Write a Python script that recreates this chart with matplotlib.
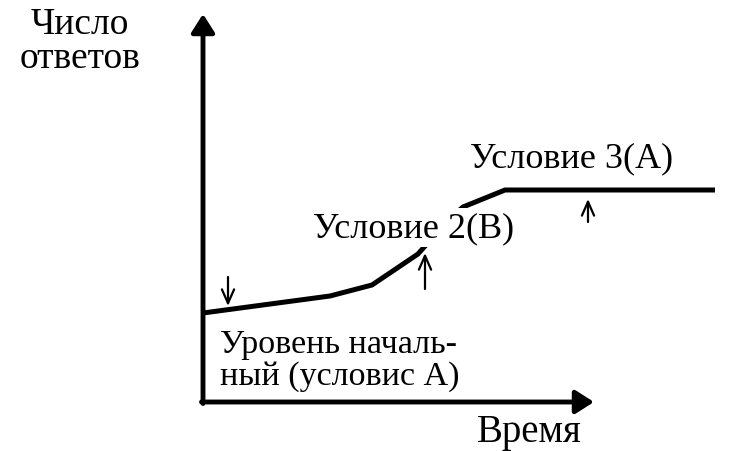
import matplotlib
matplotlib.use("Agg")
import matplotlib.pyplot as plt

# curve: time vs number of responses (origin at axis crossing)
time_pts = [0, 127, 169, 215, 244, 260, 302, 512]
responses = [89, 106, 117, 148, 181, 195, 212, 212]

# moments where the condition switches (small arrows)
switch_times = [25, 222, 385]
switch_from = [125, 113, 180]
switch_to = [96, 149, 203]

y_label = "Число\nответов"
x_label = "Время"
cond_labels = ["Уровень началь-\nный (условис А)", "Условие 2(B)", "Условие 3(A)"]

plt.rcParams["font.family"] = ["Liberation Serif", "DejaVu Serif"]

fig = plt.figure(figsize=(7.49, 4.52), dpi=100)
ax = fig.add_axes([0, 0, 1, 1])
ax.set_xlim(-203, 546)
ax.set_ylim(-49, 403)
ax.axis("off")

# axes with arrows
arrow = dict(arrowstyle="-|>,head_length=0.55,head_width=0.35", lw=3.5,
             color="black", shrinkA=0, shrinkB=0, mutation_scale=20)
ax.annotate("", xy=(0, 388), xytext=(0, -1.5), arrowprops=arrow)
ax.annotate("", xy=(391, 0), xytext=(-1.5, 0), arrowprops=arrow)

ax.plot(time_pts, responses, color="black", lw=3.6, solid_capstyle="butt",
        solid_joinstyle="round", zorder=2)

for t, a, b in zip(switch_times, switch_from, switch_to):
    ax.annotate("", xy=(t, b), xytext=(t, a),
                arrowprops=dict(arrowstyle="->,head_length=0.5,head_width=0.22",
                                lw=1.6, color="black", shrinkA=0, shrinkB=0,
                                mutation_scale=20))

ax.text(-123, 335, y_label, fontsize=27, ha="center", va="baseline",
        multialignment="center", linespacing=1.0)
ax.text(274, -39, x_label, fontsize=28, ha="left", va="baseline")

fs = 26
ax.text(17, 18, cond_labels[0], fontsize=24.5, ha="left", va="baseline", linespacing=1.05)
ax.text(110, 166, cond_labels[1], fontsize=fs, ha="left", va="baseline", zorder=3,
        bbox=dict(facecolor="white", edgecolor="none", pad=2))
ax.text(267, 236, cond_labels[2], fontsize=fs, ha="left", va="baseline")

fig.savefig("out.png", dpi=100)
